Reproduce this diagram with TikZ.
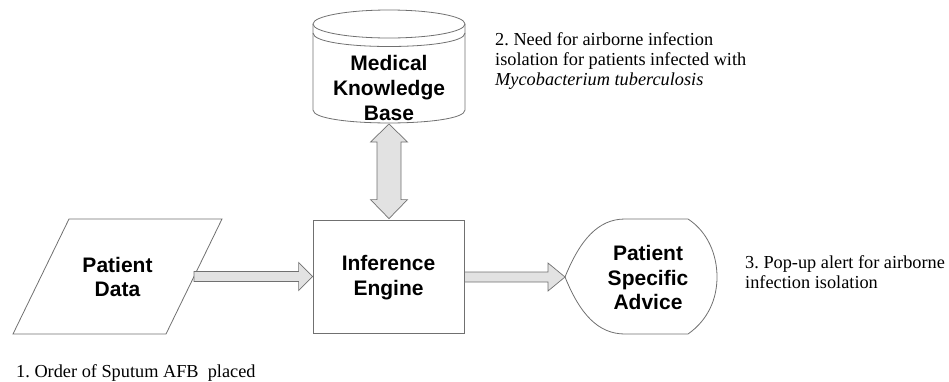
\documentclass[tikz,border=0pt]{standalone}
\usepackage{fontspec}
\setmainfont{Liberation Serif}
\setsansfont{Liberation Sans}
\usetikzlibrary{calc}
\definecolor{edge}{HTML}{707070}
\definecolor{afill}{HTML}{E2E2E2}
\tikzset{
  shapeline/.style={draw=edge, line width=0.8pt},
  barrow/.style={draw=edge, fill=afill, line width=0.7pt, line join=miter},
  boldlbl/.style={font=\sffamily\bfseries\fontsize{21}{24.8}\selectfont, align=center, inner sep=0pt},
  note/.style={font=\frenchspacing\fontsize{18.3}{19.6}\selectfont, align=left, inner sep=0pt, anchor=base west},
}
\begin{document}
\begin{tikzpicture}[x=1pt,y=1pt]
\useasboundingbox (0,0) rectangle (949,-381);
% Medical Knowledge Base (cylinder)
\draw[shapeline] (313,-24) -- (313,-110) .. controls (313,-127.3) and (465,-127.3) .. (465,-110) -- (465,-24);
\draw[shapeline] (389,-24) ellipse [x radius=76pt, y radius=14pt];
\draw[shapeline] (313,-33) .. controls (313,-51) and (465,-51) .. (465,-33);
\node[boldlbl] (kb) at (389,-88) {Medical\\Knowledge\\Base};
\coordinate (kbB) at (389,-124);
% Inference Engine
\node[shapeline, rectangle, minimum width=151pt, minimum height=113pt, inner sep=0pt] (ie) at (388.5,-276.5) {};
\node[boldlbl] (iet) at ($(ie.center)+(0,-1)$) {Inference\\Engine};
% Patient Data (parallelogram)
\draw[shapeline] (69,-219) -- (222,-219) -- (166,-334) -- (13,-334) -- cycle;
\node[boldlbl] (pd) at (117.5,-277) {Patient\\Data};
\coordinate (pdR) at (194,-277);
% Patient Specific Advice (display shape)
\draw[shapeline] (565,-277) .. controls (580,-240) and (598,-219) .. (625,-219) -- (688,-219)
   .. controls (708,-232) and (717,-255) .. (717,-277)
   .. controls (717,-299) and (708,-320) .. (688,-334) -- (625,-334)
   .. controls (598,-334) and (580,-314) .. (565,-277) -- cycle;
\node[boldlbl] (adv) at (648,-277.5) {Patient\\Specific\\Advice};
\coordinate (advW) at (565,-277);
% block arrows
\draw[barrow] let \p1=(pdR), \p2=(ie.west) in
  (\x1,\y2+5pt) -- (\x2-14pt,\y2+5pt) -- (\x2-14pt,\y2+14pt) -- (\x2,\y2) -- (\x2-14pt,\y2-14pt) -- (\x2-14pt,\y2-5pt) -- (\x1,\y2-5pt) -- cycle;
\draw[barrow] let \p1=(ie.east), \p2=(advW) in
  (\x1,\y2+5pt) -- (\x2-17pt,\y2+5pt) -- (\x2-17pt,\y2+14pt) -- (\x2,\y2) -- (\x2-17pt,\y2-14pt) -- (\x2-17pt,\y2-5pt) -- (\x1,\y2-5pt) -- cycle;
\draw[barrow] let \p1=(kbB), \p2=(ie.north) in
  (\x1,\y1) -- (\x1+18.5pt,\y1-18pt) -- (\x1+12pt,\y1-18pt) -- (\x1+12pt,\y2+20pt) -- (\x1+18.5pt,\y2+20pt) -- (\x1,\y2+1pt)
  -- (\x1-18.5pt,\y2+20pt) -- (\x1-12pt,\y2+20pt) -- (\x1-12pt,\y1-18pt) -- (\x1-18.5pt,\y1-18pt) -- cycle;
% notes
\node[note] (n2) at (495,-85) {2. Need for airborne infection\\isolation for patients infected with\\\textit{Mycobacterium tuberculosis}};
\node[note] (n3) at (745,-288) {3. Pop-up alert for airborne\\infection isolation};
\node[note] (n1) at (16,-377) {1. Order of Sputum AFB\ \ placed};
\end{tikzpicture}
\end{document}
